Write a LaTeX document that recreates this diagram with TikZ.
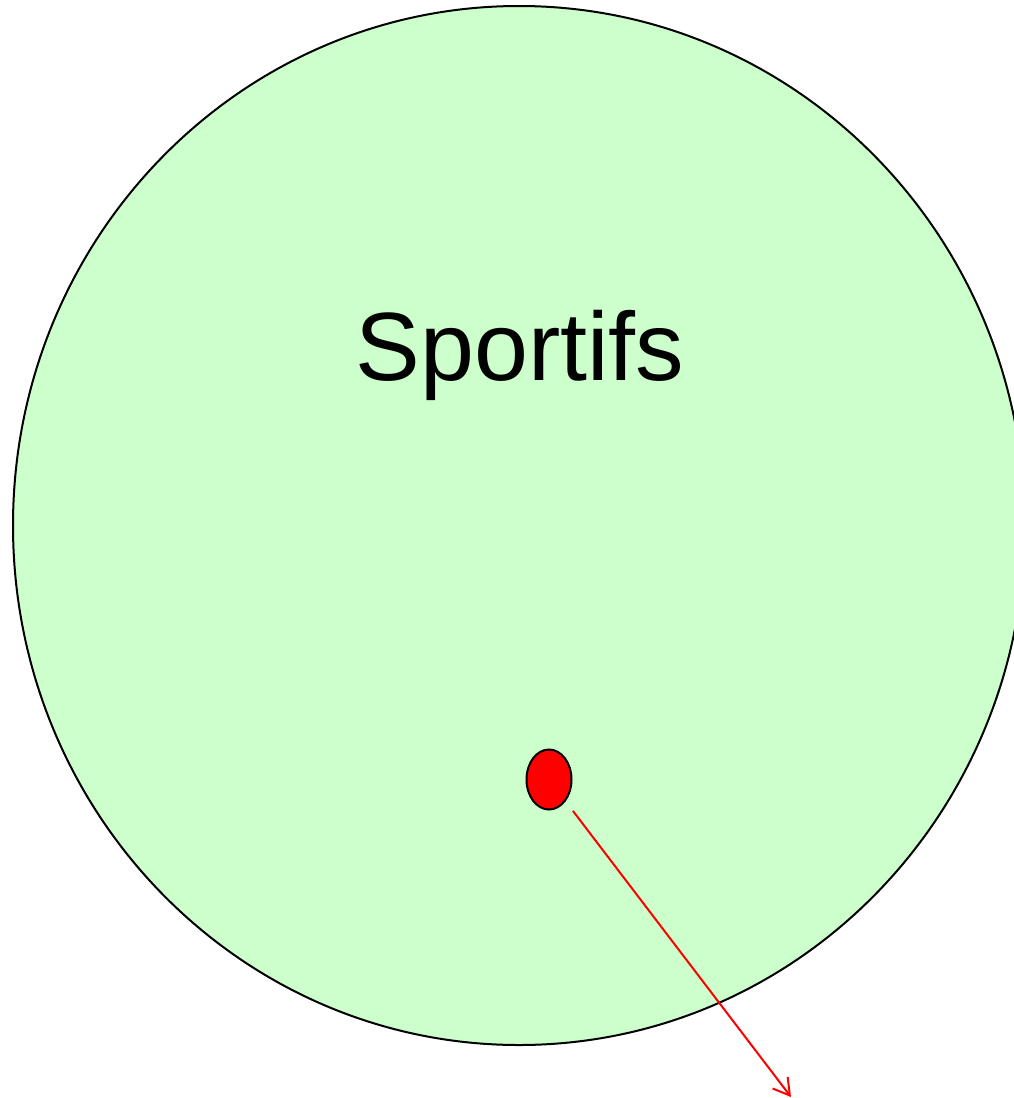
\documentclass[tikz,border=0pt]{standalone}
\usepackage{fontspec}
\setmainfont{Liberation Sans}
\usetikzlibrary{arrows.meta,shapes.geometric}
\begin{document}
\begin{tikzpicture}[x=1pt,y=-1pt,
  setbox/.style={ellipse,draw=black,line width=2pt,fill=green!20,minimum width=1012pt,minimum height=1039pt,inner sep=0pt},
  dotnode/.style={ellipse,draw=black,line width=2pt,fill=red,minimum width=45pt,minimum height=60pt,inner sep=0pt},
  link/.style={red,line width=2pt,-{Straight Barb[length=16pt,width=19pt,line width=2pt]}}
]
\useasboundingbox (0,0) rectangle (1013,1098);
\node[setbox] (set) at (519,525.5) {};
\node[anchor=base,font=\fontsize{97}{97}\selectfont] (lab) at (520,380) {Sportifs};
\node[dotnode] (dot) at (549,779.5) {};
\coordinate (tip) at (791,1097);
\draw[link,shorten <=12pt] (dot) -- (tip);
\end{tikzpicture}
\end{document}
